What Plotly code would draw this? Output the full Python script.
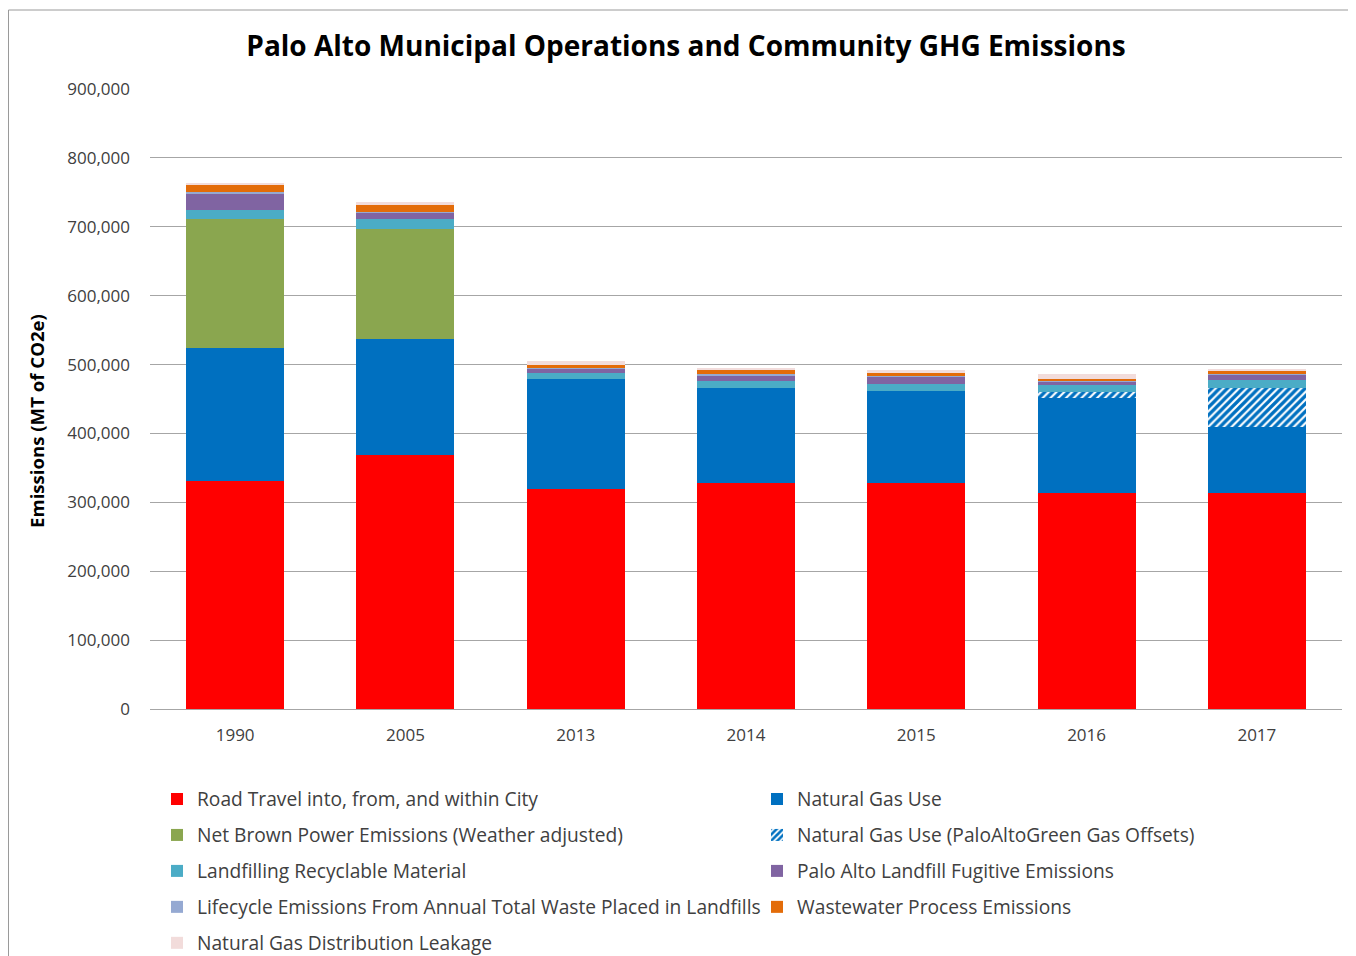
import plotly.graph_objects as go

years = ["1990", "2005", "2013", "2014", "2015", "2016", "2017"]

road_travel = [331000, 368700, 318900, 328100, 328100, 314000, 314000]
natural_gas = [193000, 168400, 160600, 137900, 133900, 137900, 94900]
brown_power = [186800, 159700, 0, 0, 0, 0, 0]
gas_offsets = [0, 0, 0, 0, 0, 8700, 57500]
landfilling = [13500, 14000, 8200, 9600, 10200, 9700, 11600]
fugitive = [24300, 9700, 6300, 8800, 10200, 5800, 6400]
lifecycle = [1500, 1200, 1000, 1900, 1500, 1000, 2900]
wastewater = [10000, 10600, 4800, 5300, 4300, 2400, 2900]
leakage = [3500, 3400, 5800, 3800, 3900, 6800, 2900]

names = [
    "Road Travel into, from, and within City",
    "Natural Gas Use",
    "Net Brown Power Emissions (Weather adjusted)",
    "Natural Gas Use (PaloAltoGreen Gas Offsets)",
    "Landfilling Recyclable Material",
    "Palo Alto Landfill Fugitive Emissions",
    "Lifecycle Emissions From Annual Total Waste Placed in Landfills",
    "Wastewater Process Emissions",
    "Natural Gas Distribution Leakage",
]
series = [road_travel, natural_gas, brown_power, gas_offsets, landfilling,
          fugitive, lifecycle, wastewater, leakage]
colors = ["#FF0000", "#0070C0", "#8AA64F", "#0070C0", "#4BACC6",
          "#8064A2", "#95A9D2", "#E36C09", "#F2DCDB"]
legend_ids = ["legend", "legend2", "legend", "legend2", "legend",
              "legend2", "legend", "legend2", "legend"]

# page body has an 8px margin, so figure coords = reference coords - 8
OFF = 8
W, H = 1348, 948
PL, PR, PT, PB = 150 - OFF, 1342 - OFF, 89 - OFF, 709 - OFF

fig = go.Figure()
for i, (nm, vals, col, lg) in enumerate(zip(names, series, colors, legend_ids)):
    marker = dict(color=col, line=dict(width=0))
    if i == 3:
        marker = dict(color="#0070C0", line=dict(width=0),
                      pattern=dict(shape="/", fgcolor="#0070C0", bgcolor="white",
                                   size=5.5, solidity=0.6, fillmode="replace",
                                   fgopacity=1))
    fig.add_trace(go.Bar(x=years, y=vals, name=nm, marker=marker,
                         legend=lg, legendgroup="g%d" % i))

font_family = "'Open Sans', Lato, sans-serif"

def px_x(p):
    return (p - OFF - PL) / (PR - PL)

def px_y(p):
    return (PB - (p - OFF)) / (PB - PT)

legend_common = dict(
    orientation="v", xref="container", yref="container", xanchor="left",
    yanchor="top", bgcolor="rgba(0,0,0,0)", tracegroupgap=8.0,
    font=dict(family=font_family, size=19.2, color="#404040"),
    traceorder="grouped", itemwidth=30,
)

legend_top = 799 - OFF - 19.0

fig.update_layout(
    width=W, height=H,
    margin=dict(l=PL, r=W - PR, t=PT, b=H - PB, autoexpand=False),
    paper_bgcolor="white", plot_bgcolor="white",
    barmode="stack", bargap=0.425,
    title=dict(text="<b>Palo Alto Municipal Operations and Community GHG Emissions</b>",
               x=(686 - OFF) / W, xref="container", xanchor="center",
               y=1 - (46 - OFF) / H, yref="container", yanchor="middle",
               font=dict(family=font_family, size=28, color="#000000")),
    font=dict(family=font_family, color="#404040"),
    xaxis=dict(type="category", showgrid=False, showline=False, zeroline=False,
               tickfont=dict(size=17, color="#404040"), ticks="",
               ticklabelstandoff=14),
    yaxis=dict(range=[0, 900000], dtick=100000, tickformat=",",
               showgrid=True, gridcolor="#A6A6A6", gridwidth=1.3,
               zeroline=True, zerolinecolor="#A6A6A6", zerolinewidth=1.3,
               showline=False, ticks="",
               tickfont=dict(size=17, color="#404040"), ticklabelstandoff=19),
    legend=dict(legend_common, x=(157 - OFF) / W, y=1 - legend_top / H),
    legend2=dict(legend_common, x=(757 - OFF) / W, y=1 - legend_top / H),
    showlegend=True,
)

fig.add_annotation(text="<b>Emissions (MT of CO2e)</b>", textangle=-90,
                   xref="paper", yref="paper", x=px_x(37), y=px_y(421),
                   xanchor="center", yanchor="middle", showarrow=False,
                   font=dict(family=font_family, size=18.6, color="#000000"))

fig.add_shape(type="rect", xref="paper", yref="paper",
              x0=px_x(8.5), x1=px_x(1400), y0=px_y(1000), y1=px_y(10),
              line=dict(color="#9A9A9A", width=1), fillcolor="rgba(0,0,0,0)",
              layer="below")

fig.write_html("out.html")
